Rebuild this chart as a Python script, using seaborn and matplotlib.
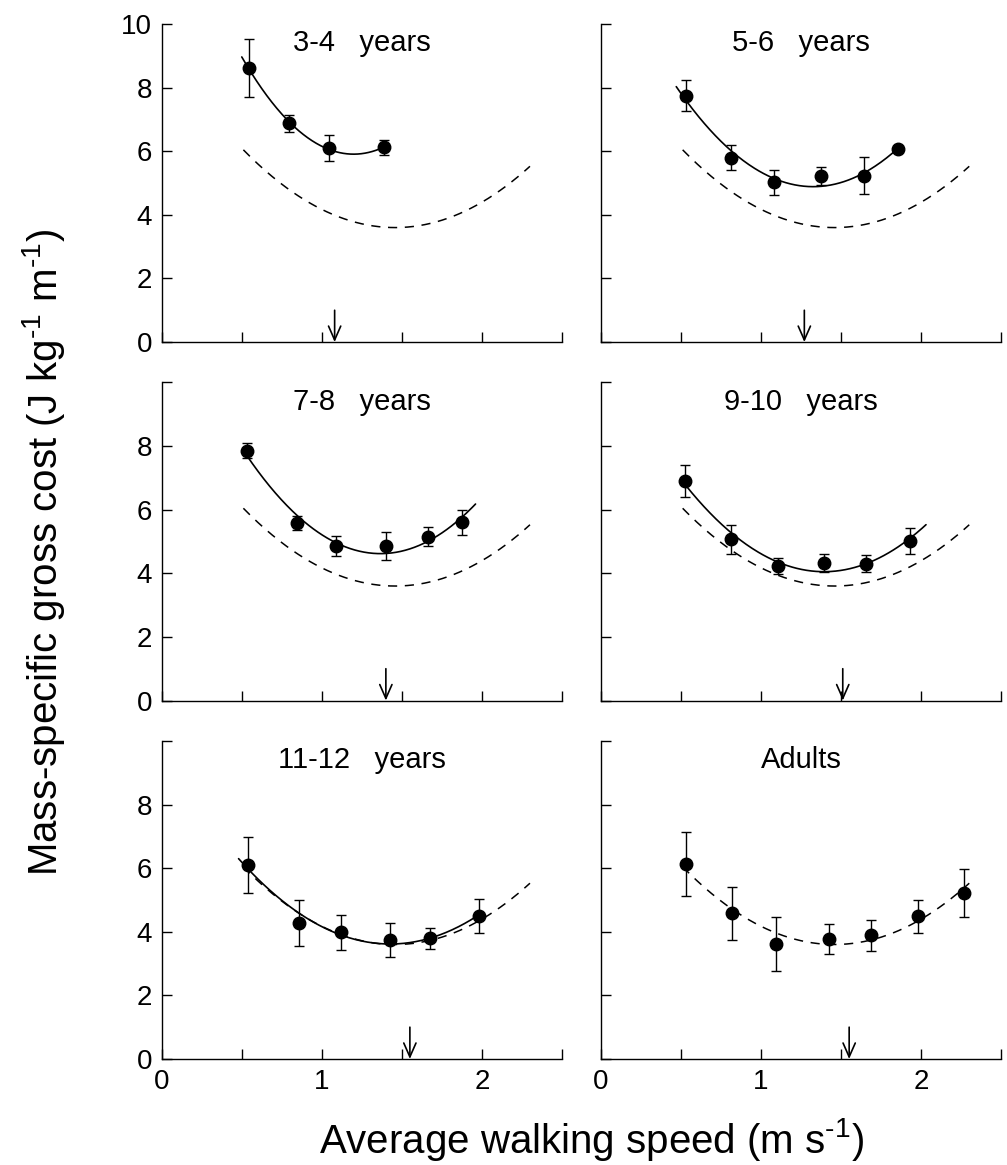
import matplotlib
matplotlib.use("Agg")
import matplotlib.pyplot as plt
import numpy as np
import seaborn as sns

# values (speed m/s, cost J/kg/m, error bar half-length)
groups = ["3-4   years", "5-6   years", "7-8   years",
          "9-10   years", "11-12   years", "Adults"]

speed_34 = [0.544, 0.794, 1.046, 1.388]
cost_34 = [8.61, 6.88, 6.10, 6.12]
sd_34 = [0.92, 0.27, 0.41, 0.24]

speed_56 = [0.529, 0.810, 1.083, 1.371, 1.640, 1.858]
cost_56 = [7.75, 5.80, 5.02, 5.23, 5.23, 6.06]
sd_56 = [0.50, 0.39, 0.39, 0.28, 0.59, 0.08]

speed_78 = [0.533, 0.842, 1.088, 1.402, 1.666, 1.875]
cost_78 = [7.85, 5.57, 4.86, 4.86, 5.15, 5.60]
sd_78 = [0.24, 0.22, 0.31, 0.45, 0.30, 0.40]

speed_910 = [0.527, 0.814, 1.104, 1.391, 1.658, 1.927]
cost_910 = [6.91, 5.07, 4.23, 4.32, 4.30, 5.02]
sd_910 = [0.51, 0.46, 0.25, 0.28, 0.26, 0.40]

speed_1112 = [0.538, 0.860, 1.119, 1.423, 1.677, 1.983]
cost_1112 = [6.11, 4.28, 3.98, 3.75, 3.80, 4.49]
sd_1112 = [0.88, 0.73, 0.55, 0.53, 0.33, 0.53]

speed_adult = [0.529, 0.821, 1.094, 1.423, 1.688, 1.979, 2.269]
cost_adult = [6.13, 4.58, 3.62, 3.76, 3.89, 4.48, 5.22]
sd_adult = [1.00, 0.84, 0.84, 0.47, 0.49, 0.51, 0.76]

# x extent of each drawn regression curve
fit_start = [0.50, 0.47, 0.53, 0.53, 0.48, None]
fit_end = [1.39, 1.86, 1.96, 2.03, 1.99, None]
adult_fit_range = [0.51, 2.30]

# optimal speed (arrows)
optimal_speed = [1.08, 1.27, 1.40, 1.51, 1.55, 1.55]

speeds = [speed_34, speed_56, speed_78, speed_910, speed_1112, speed_adult]
costs = [cost_34, cost_56, cost_78, cost_910, cost_1112, cost_adult]
sds = [sd_34, sd_56, sd_78, sd_910, sd_1112, sd_adult]

sns.set_style("ticks")
plt.rcParams["font.family"] = ["Liberation Sans", "DejaVu Sans"]
plt.rcParams["mathtext.fontset"] = "custom"
plt.rcParams["mathtext.rm"] = "Liberation Sans"
plt.rcParams["mathtext.it"] = "Liberation Sans:italic"
plt.rcParams["mathtext.bf"] = "Liberation Sans:bold"
plt.rcParams["text.color"] = "k"
plt.rcParams["axes.labelcolor"] = "k"

fig, axes = plt.subplots(3, 2, figsize=(10.07, 11.65), dpi=100)
fig.subplots_adjust(left=0.1606, right=0.9943, bottom=0.091, top=0.9794,
                    wspace=0.0975, hspace=0.127)

# adult quadratic fit, drawn dashed as reference in the child panels
adult_coef = np.polyfit(speed_adult, cost_adult, 2)
adult_x = np.linspace(adult_fit_range[0], adult_fit_range[1], 200)
adult_y = np.polyval(adult_coef, adult_x)

for i, ax in enumerate(axes.flat):
    row, col = divmod(i, 2)

    sns.lineplot(x=adult_x, y=adult_y, ax=ax, color="k", lw=1.1,
                 linestyle=(0, (6, 5)))

    if fit_start[i] is not None:
        coef = np.polyfit(speeds[i], costs[i], 2)
        fx = np.linspace(fit_start[i], fit_end[i], 200)
        sns.lineplot(x=fx, y=np.polyval(coef, fx), ax=ax, color="k", lw=1.2)

    ax.errorbar(speeds[i], costs[i], yerr=sds[i], fmt="o", color="k",
                ms=9, elinewidth=1, capsize=3.5, capthick=1, zorder=3)

    ax.annotate("", xy=(optimal_speed[i], 0), xytext=(optimal_speed[i], 1.0),
                arrowprops=dict(arrowstyle="->, head_length=0.5, head_width=0.22",
                                color="k", lw=1.2, shrinkA=0, shrinkB=0,
                                mutation_scale=20))

    ax.text(0.5, 0.94, groups[i], transform=ax.transAxes, ha="center",
            va="center", fontsize=21)

    ax.set_xlim(0, 2.5)
    ax.set_ylim(0, 10)
    ax.set_xticks(np.arange(0, 2.51, 0.5))
    ax.set_yticks([0, 2, 4, 6, 8, 10])
    if row == 2:
        ax.set_xticklabels(["0", "", "1", "", "2", ""])
    else:
        ax.set_xticklabels([])
    if col == 0:
        top = "10" if row == 0 else ""
        ax.set_yticklabels(["0", "2", "4", "6", "8", top])
    else:
        ax.set_yticklabels([])

    sns.despine(ax=ax)
    for s in ("left", "bottom"):
        ax.spines[s].set_linewidth(1)
        ax.spines[s].set_color("k")
    ax.tick_params(direction="in", length=7, width=1, color="k",
                   labelsize=20, pad=7, labelcolor="k")
    ax.set_xlabel("")
    ax.set_ylabel("")

fig.text(57 / 1007, 0.526,
         r"Mass-specific gross cost (J kg$^{\text{-}1}$ m$^{\text{-}1}$)",
         rotation=90, rotation_mode="anchor", ha="center", va="baseline",
         fontsize=29)
fig.text(592 / 1007, 0.0103, r"Average walking speed (m s$^{\text{-}1}$)",
         ha="center", va="baseline", fontsize=29)

fig.savefig("out.png", dpi=100)
